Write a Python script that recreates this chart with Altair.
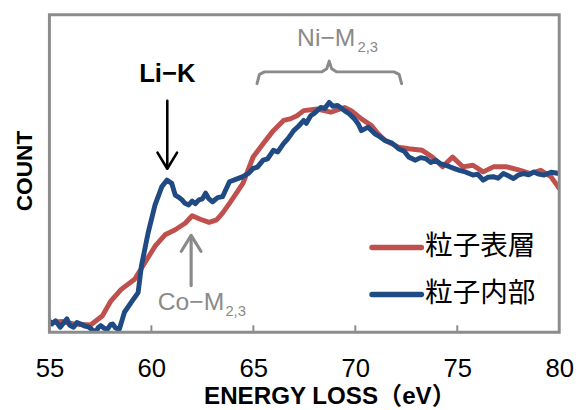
import altair as alt
import pandas as pd

# ---------------- data ----------------
X_TICKS = [55, 60, 65, 70, 75, 80]
INNER_TICKS = [60, 65, 70, 75]
SERIES = ["粒子表層", "粒子内部"]
COLORS = ["#c0504d", "#1f4a84"]

x_red = [55.0, 55.12, 55.6, 56.19, 57.02, 57.6, 58.02, 58.52, 59.18, 59.68,
         60.18, 60.67, 61.17, 61.67, 62.0, 62.4, 62.83, 63.2, 63.49, 63.83,
         64.49, 64.99, 65.48, 65.98, 66.48, 66.81, 67.14, 67.47, 68.14, 68.8,
         69.47, 69.8, 70.3, 70.79, 71.12, 71.46, 72.12, 72.62, 73.28, 73.78,
         74.28, 74.77, 75.27, 75.77, 76.27, 76.77, 77.43, 78.09, 78.59, 79.09,
         79.59, 80.0]
y_red = [3.0, 3.1, 3.4, 2.6, 2.3, 5.2, 9.9, 13.5, 16.7, 21.9,
         27.1, 30.7, 32.3, 34.4, 36.7, 35.6, 34.6, 35.4, 37.5, 40.6,
         46.9, 55.2, 59.4, 63.5, 66.7, 67.2, 68.2, 69.8, 70.3, 69.3,
         70.8, 69.8, 67.2, 65.1, 62.5, 60.4, 58.3, 57.8, 57.3, 55.2,
         52.1, 55.2, 52.1, 52.6, 50.5, 52.1, 52.1, 51.0, 50.0, 51.0,
         49.0, 45.3]

x_blue = [55.0, 55.12, 55.3, 55.53, 55.7, 55.86, 56.0, 56.19, 56.35, 56.53,
          56.7, 56.94, 57.1, 57.27, 57.4, 57.52, 57.7, 57.85, 58.0, 58.1,
          58.25, 58.43, 58.55, 58.68, 59.01, 59.35, 59.51, 59.84, 60.18, 60.51,
          60.76, 61.0, 61.17, 61.35, 61.5, 61.65, 61.83, 62.0, 62.15, 62.33,
          62.5, 62.66, 62.8, 63.0, 63.25, 63.49, 63.83, 64.2, 64.49, 64.75,
          64.99, 65.2, 65.48, 65.7, 65.98, 66.2, 66.48, 66.7, 66.98, 67.2,
          67.47, 67.6, 67.81, 68.0, 68.3, 68.5, 68.72, 68.9, 69.13, 69.3,
          69.47, 69.7, 69.96, 70.15, 70.3, 70.63, 70.96, 71.2, 71.46, 71.8,
          72.12, 72.4, 72.62, 72.95, 73.2, 73.45, 73.7, 73.94, 74.2, 74.44,
          74.8, 75.11, 75.4, 75.77, 76.0, 76.27, 76.5, 76.77, 77.0, 77.26,
          77.5, 77.76, 78.0, 78.26, 78.5, 78.76, 79.0, 79.26, 79.6, 80.0]
y_blue = [3.5, 2.6, 3.6, 1.6, 3.0, 4.2, 2.2, 1.6, 3.1, 2.6,
          2.0, 1.6, 0.8, 0.0, 1.5, 2.1, 1.2, 1.0, 2.4, 2.6,
          1.3, 1.0, 3.5, 6.3, 9.4, 12.5, 20.8, 31.3, 40.1, 45.8,
          47.9, 46.9, 43.2, 42.5, 41.7, 40.6, 40.1, 41.3, 40.5, 41.7,
          42.0, 43.8, 42.2, 41.1, 42.4, 42.7, 47.4, 48.3, 49.0, 50.0,
          51.6, 52.0, 54.2, 54.6, 57.3, 56.8, 59.4, 61.0, 63.5, 64.8,
          66.7, 65.8, 68.2, 69.0, 70.8, 70.5, 72.4, 71.2, 71.4, 70.6,
          69.8, 68.8, 67.2, 65.5, 63.5, 64.6, 62.5, 61.6, 60.4, 59.6,
          57.8, 57.0, 55.2, 54.2, 55.0, 54.7, 53.5, 54.2, 53.0, 52.6,
          51.7, 51.0, 50.5, 49.5, 49.8, 47.9, 48.8, 49.0, 48.5, 50.0,
          49.3, 48.4, 49.5, 50.0, 49.6, 50.5, 49.8, 49.5, 50.4, 50.0]
assert len(x_red) == len(y_red) and len(x_blue) == len(y_blue)

# annotation texts
MAIN_TEXT = ["Ni−M", "Co−M"]
MAIN_X = [70.0, 63.57]
MAIN_Y = [90.3, 6.9]
SUB_TEXT = ["2,3", "2,3"]
SUB_X = [70.11, 63.63]
SUB_Y = [88.2, 5.0]

GRAY = "#8a8a8a"
FRAME = "#8c8c8c"
LATIN = "Liberation Sans, Arial, Noto Sans CJK JP"
CJK = "Noto Sans CJK JP"

# annotation paths (arrows and brace): id, x, y
path_id = ["li"] * 2 + ["lih"] * 3 + ["co"] * 2 + ["coh"] * 3 + ["br"] * 11
path_x = [60.78, 60.78, 60.30, 60.78, 61.26,
          61.95, 61.95, 61.47, 61.95, 62.43,
          65.18, 65.3, 65.55, 68.35, 68.6, 68.72, 68.84, 69.09, 71.9, 72.15, 72.27]
path_y = [72.9, 51.8, 56.6, 51.5, 56.6,
          14.7, 30.3, 25.5, 30.5, 25.5,
          78.3, 81.2, 82.0, 82.0, 83.0, 85.4, 83.0, 82.0, 82.0, 81.2, 78.3]
path_col = {"li": "black", "lih": "black", "co": GRAY, "coh": GRAY, "br": GRAY}
path_w = {"li": 2.6, "lih": 2.6, "co": 3.2, "coh": 3.2, "br": 3.0}

# ---------------- encodings ----------------
def X(field="x"):
    return alt.X(
        f"{field}:Q",
        scale=alt.Scale(domain=[55, 80], nice=False, zero=False),
        axis=alt.Axis(
            values=X_TICKS, title="ENERGY LOSS（eV）", ticks=False, domain=False,
            grid=False, labelFont=LATIN, labelFontSize=26, labelColor="black",
            labelPadding=24, labelFlush=False, labelOverlap=False,
            titleFont=LATIN, titleFontSize=24.5, titleFontWeight="bold",
            titleColor="black", titleX=284, titleY=72, titleBaseline="alphabetic",
        ),
    )


def Y(field="y"):
    return alt.Y(
        f"{field}:Q",
        scale=alt.Scale(domain=[0, 100], nice=False, zero=False),
        axis=alt.Axis(
            labels=False, ticks=False, domain=False, grid=False, title="COUNT",
            titleFont=LATIN, titleFontSize=23, titleFontWeight="bold",
            titleColor="black", titleX=-18, titleY=158, titleAngle=270,
            titleBaseline="alphabetic", titleAlign="center",
        ),
    )


red_df = pd.DataFrame({"x": x_red, "y": y_red})
blue_df = pd.DataFrame({"x": x_blue, "y": y_blue})

red = alt.Chart(red_df).mark_line(
    color=COLORS[0], strokeWidth=5, strokeCap="round", strokeJoin="round", clip=True
).encode(x=X(), y=Y(), order="x:Q")
blue = alt.Chart(blue_df).mark_line(
    color=COLORS[1], strokeWidth=5, strokeCap="round", strokeJoin="round", clip=True
).encode(x=X(), y=Y(), order="x:Q")

frame_df = pd.DataFrame({"x": [55], "x2": [80], "y": [0], "y2": [100]})
frame = alt.Chart(frame_df).mark_rect(
    fill="transparent", stroke=FRAME, strokeWidth=3
).encode(x=X(), x2="x2:Q", y=Y(), y2="y2:Q")

tick_df = pd.DataFrame({"x": INNER_TICKS, "y": [0] * 4, "y2": [2.2] * 4})
ticks = alt.Chart(tick_df).mark_rule(color=FRAME, strokeWidth=2).encode(
    x=X(), y=Y(), y2="y2:Q"
)

path_df = pd.DataFrame({
    "id": path_id, "x": path_x, "y": path_y,
    "o": list(range(len(path_x))),
    "c": [path_col[i] for i in path_id],
    "w": [path_w[i] for i in path_id],
})
paths = alt.Chart(path_df).mark_line(strokeCap="round", strokeJoin="round").encode(
    x=X(), y=Y(), detail="id:N", order="o:Q",
    color=alt.Color("c:N", scale=None),
    strokeWidth=alt.StrokeWidth("w:Q", scale=None),
)

li_df = pd.DataFrame({"t": ["Li−K"], "x": [60.78], "y": [78.7]})
li_text = alt.Chart(li_df).mark_text(
    font=LATIN, fontSize=26, fontWeight="bold", color="black",
    align="center", baseline="alphabetic"
).encode(x=X(), y=Y(), text="t:N")

main_df = pd.DataFrame({"t": MAIN_TEXT, "x": MAIN_X, "y": MAIN_Y})
main_text = alt.Chart(main_df).mark_text(
    font=LATIN, fontSize=25, color=GRAY, align="right", baseline="alphabetic"
).encode(x=X(), y=Y(), text="t:N")

sub_df = pd.DataFrame({"t": SUB_TEXT, "x": SUB_X, "y": SUB_Y})
sub_text = alt.Chart(sub_df).mark_text(
    font=LATIN, fontSize=15, color=GRAY, align="left", baseline="alphabetic"
).encode(x=X(), y=Y(), text="t:N")

# legend drawn inside the plot
leg_df = pd.DataFrame({
    "s": SERIES, "c": COLORS,
    "x": [70.82, 70.82], "x2": [73.24, 73.24], "y": [26.7, 11.9],
    "tx": [73.42, 73.42],
})
leg_lines = alt.Chart(leg_df).mark_rule(strokeWidth=5.5, strokeCap="round").encode(
    x=X(), x2="x2:Q", y=Y(), color=alt.Color("c:N", scale=None)
)
leg_text = alt.Chart(leg_df).mark_text(
    font=CJK, fontSize=28, color="black", align="left", baseline="middle"
).encode(x=X("tx"), y=Y(), text="s:N")

chart = alt.layer(
    ticks, red, blue, paths, li_text, main_text, sub_text, leg_lines, leg_text, frame
).properties(
    width=517, height=322,
    padding={"left": 42, "top": 4, "right": 16, "bottom": 76},
    autosize=alt.AutoSizeParams(type="none"),
    background="white",
).configure_view(stroke="transparent")

chart.save("out.html", embed_options={"renderer": "svg", "actions": False})
